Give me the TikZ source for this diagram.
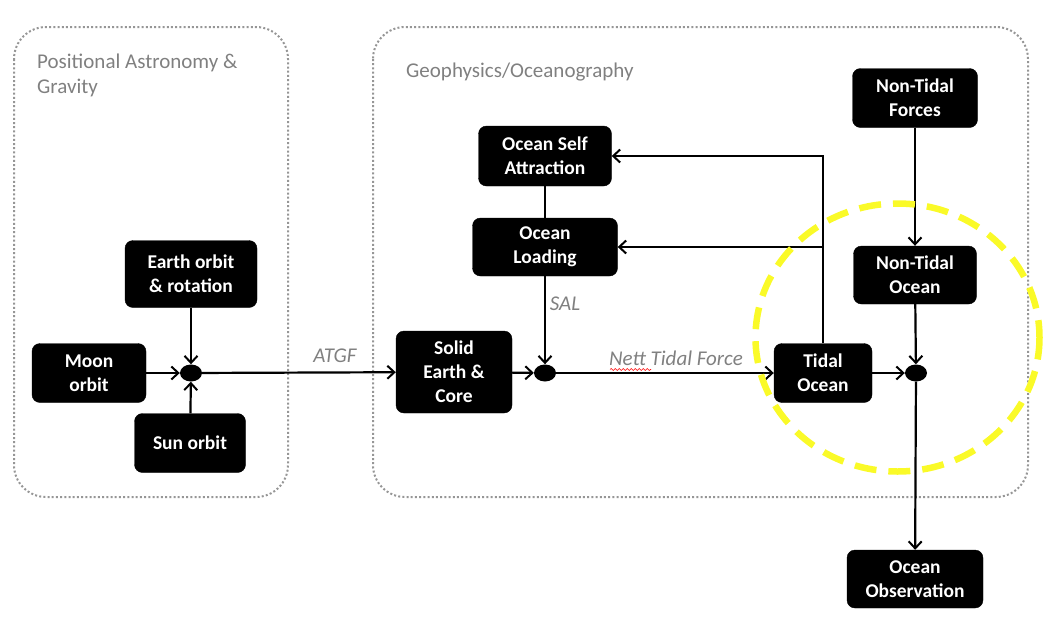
\documentclass[tikz,border=0pt]{standalone}
\usepackage{fontspec}
\setmainfont{Carlito}
\usetikzlibrary{arrows.meta,shapes.geometric,decorations.pathmorphing}
\definecolor{grp}{RGB}{150,150,150}
\definecolor{lbl}{RGB}{128,128,128}
\definecolor{hl}{RGB}{250,250,40}
\tikzset{
  blk/.style={fill=black,draw=black,rounded corners=8pt,text=white,align=center,
    font=\bfseries\fontsize{19.5}{24}\selectfont,inner sep=0pt},
  jn/.style={ellipse,fill=black,minimum width=22pt,minimum height=17pt,inner sep=0pt},
  arr/.style={line width=2.2pt,-{Straight Barb[length=7pt,width=13pt,line width=2pt]}},
  ln/.style={line width=2.2pt},
  grpbox/.style={draw=grp,line width=2pt,dash pattern=on 2pt off 2.2pt,rounded corners=32pt},
  grplbl/.style={text=lbl,align=left,anchor=north west,font=\fontsize{21}{24.5}\selectfont,inner sep=0pt},
  edgelbl/.style={text=lbl,font=\itshape\fontsize{21}{24}\selectfont,inner sep=0pt},
}
\begin{document}
\begin{tikzpicture}[x=1pt,y=-1pt]
\useasboundingbox (0,0) rectangle (1053,627);
% group boxes
\draw[grpbox] (14,27) rectangle (288,497);
\draw[grpbox] (373,27) rectangle (1028,497);
\node[grplbl] (gl1) at (37,54) {Positional Astronomy \&\\Gravity};
\node[grplbl] (gl2) at (406,63) {Geophysics/Oceanography};
% nodes
\node[blk,minimum width=132pt,minimum height=67pt] (earth) at (191,274) {Earth orbit\\\& rotation};
\node[blk,minimum width=114pt,minimum height=59pt] (moon) at (89,373) {Moon\\orbit};
\node[blk,minimum width=111pt,minimum height=59pt] (sun) at (190,443) {Sun orbit};
\node[jn] (j1) at (191,373) {};
\node[blk,minimum width=116pt,minimum height=82pt] (solid) at (454,372) {Solid\\Earth \&\\Core};
\node[jn] (j2) at (545,373) {};
\node[blk,minimum width=133pt,minimum height=60pt] (osa) at (545,156) {Ocean Self\\Attraction};
\node[blk,minimum width=145pt,minimum height=58pt] (ol) at (545,247) {Ocean\\Loading};
\node[blk,minimum width=98pt,minimum height=59pt] (tidal) at (823,373) {Tidal\\Ocean};
\node[jn] (j3) at (916,373) {};
\node[blk,minimum width=125pt,minimum height=59pt] (ntf) at (915,98) {Non-Tidal\\Forces};
\node[blk,minimum width=123pt,minimum height=58pt] (nto) at (915,275) {Non-Tidal\\Ocean};
\node[blk,minimum width=136pt,minimum height=58pt] (obs) at (915,579) {Ocean\\Observation};
% labels
\node[edgelbl] (atgf) at (335,356) {ATGF};
\node[edgelbl] (sal) at (565,304) {SAL};
\node[edgelbl] (ntl) at (676,358) {Nett Tidal Force};
% connectors
\draw[arr] (moon) -- (j1);
\draw[arr] (earth) -- (j1);
\draw[arr] (sun) -- (j1);
\draw[arr] (j1) -- (solid);
\draw[arr] (solid) -- (j2);
\draw[ln] (osa) -- (ol);
\draw[arr] (ol) -- (j2);
\draw[arr] (j2) -- (tidal);
\draw[arr] (tidal) -- (j3);
\draw[arr] (tidal.north) |- (osa.east);
\coordinate (br) at (tidal.north |- ol.east);
\draw[arr] (br) -- (ol.east);
\draw[arr] (ntf) -- (nto);
\draw[arr] (nto) -- (j3);
\draw[arr] (j3) -- (obs);
% spell-check squiggle
\draw[red,line width=0.6pt,decorate,decoration={snake,amplitude=1pt,segment length=4pt}] (610,369.5) -- (651,369.5);
% highlight circle
\draw[hl,line width=6.5pt,dash pattern=on 22pt off 12pt] (897.5,337.5) ellipse [x radius=142, y radius=134];
\end{tikzpicture}
\end{document}
